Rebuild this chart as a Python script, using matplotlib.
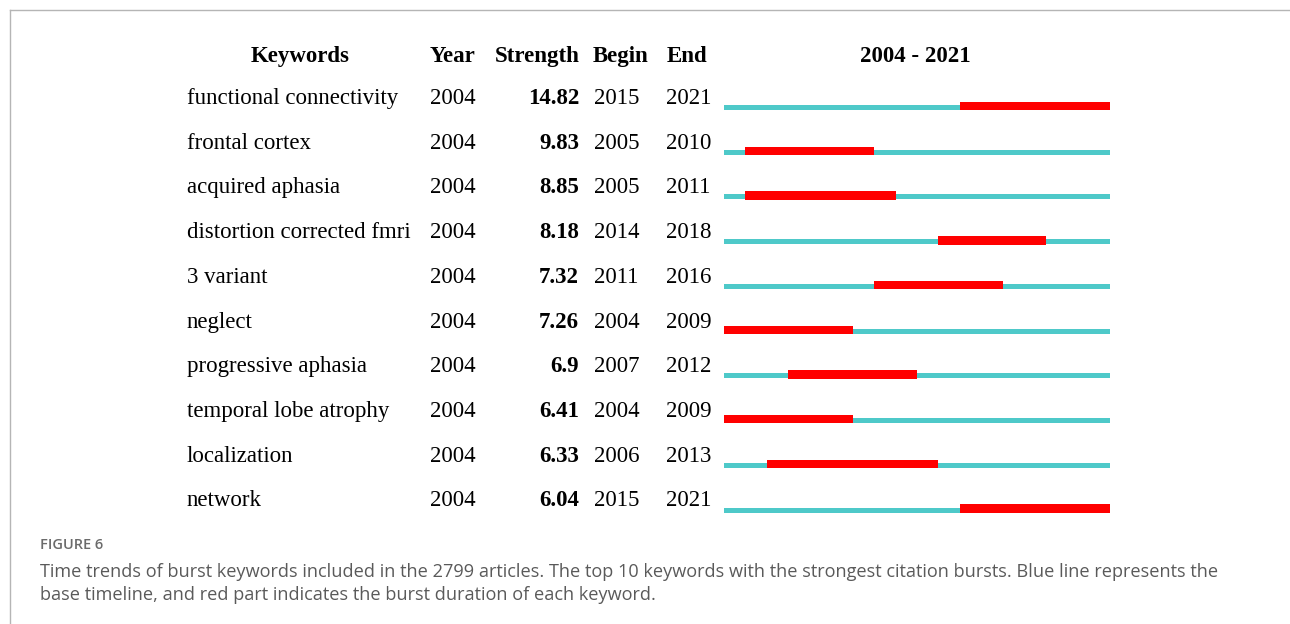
import matplotlib
matplotlib.use("Agg")
import matplotlib.pyplot as plt
from matplotlib.lines import Line2D
from matplotlib.transforms import blended_transform_factory

# burst keyword data
keywords = ["functional connectivity", "frontal cortex", "acquired aphasia",
            "distortion corrected fmri", "3 variant", "neglect",
            "progressive aphasia", "temporal lobe atrophy", "localization", "network"]
year = [2004] * 10
strength = ["14.82", "9.83", "8.85", "8.18", "7.32", "7.26", "6.9", "6.41", "6.33", "6.04"]
begin = [2015, 2005, 2005, 2014, 2011, 2004, 2007, 2004, 2006, 2015]
end = [2021, 2010, 2011, 2018, 2016, 2009, 2012, 2009, 2013, 2021]
span_start, span_end = 2004, 2021

W, H = 1290, 624
fig = plt.figure(figsize=(W / 100, H / 100), dpi=100)

# timeline axes: x from 724px to 1110px, row 0 at 107.5px, row 9 at 510px
row_h = (510 - 107.5) / 9
top_px = 107.5 - 1.5 * row_h
bot_px = 510 + 0.5 * row_h
ax = fig.add_axes([724 / W, 1 - bot_px / H, 386 / W, (bot_px - top_px) / H])
ax.set_xlim(span_start, span_end + 1)
ax.set_ylim(9.5, -1.5)
ax.axis("off")

rows = list(range(len(keywords)))
cyan = "#4ec9c9"
red = "#ff0000"
ax.barh(rows, [span_end + 1 - span_start] * len(rows), left=span_start,
        height=5 / row_h, color=cyan, clip_on=False)
ax.barh([r - 0.03 for r in rows], [e + 1 - b for b, e in zip(begin, end)], left=begin,
        height=8.5 / row_h, color=red, clip_on=False)

# table columns (x in figure fraction, y in row units)
tr = blended_transform_factory(fig.transFigure, ax.transData)
serif = "Liberation Serif"
fs = 16.5
hdr_y = -1.02
ax.text(300 / W, hdr_y, "Keywords", transform=tr, ha="center", va="baseline",
        family=serif, fontsize=fs, fontweight="bold")
ax.text(430 / W, hdr_y, "Year", transform=tr, ha="left", va="baseline",
        family=serif, fontsize=fs, fontweight="bold")
ax.text(580 / W, hdr_y, "Strength", transform=tr, ha="right", va="baseline",
        family=serif, fontsize=fs, fontweight="bold")
ax.text(593 / W, hdr_y, "Begin", transform=tr, ha="left", va="baseline",
        family=serif, fontsize=fs, fontweight="bold")
ax.text(667 / W, hdr_y, "End", transform=tr, ha="left", va="baseline",
        family=serif, fontsize=fs, fontweight="bold")
ax.text((span_start + span_end + 1) / 2 - 0.1, hdr_y, f"{span_start} - {span_end}",
        ha="center", va="baseline", family=serif, fontsize=fs, fontweight="bold")

for i in rows:
    y = i - 0.08
    ax.text(187 / W, y, keywords[i], transform=tr, ha="left", va="baseline",
            family=serif, fontsize=fs)
    ax.text(430 / W, y, str(year[i]), transform=tr, ha="left", va="baseline",
            family=serif, fontsize=fs)
    ax.text(579 / W, y, strength[i], transform=tr, ha="right", va="baseline",
            family=serif, fontsize=fs, fontweight="bold")
    ax.text(594 / W, y, str(begin[i]), transform=tr, ha="left", va="baseline",
            family=serif, fontsize=fs)
    ax.text(666 / W, y, str(end[i]), transform=tr, ha="left", va="baseline",
            family=serif, fontsize=fs)

# caption
fig.text(40 / W, 1 - 549 / H, "FIGURE 6", ha="left", va="baseline",
         family="Open Sans", fontsize=10.5, fontweight="semibold", color="#6b6b6b")
fig.text(40 / W, 1 - 577 / H,
         "Time trends of burst keywords included in the 2799 articles. The top 10 keywords "
         "with the strongest citation bursts. Blue line represents the",
         ha="left", va="baseline", family="Open Sans", fontsize=13.1, color="#5a5a5a")
fig.text(40 / W, 1 - 600 / H,
         "base timeline, and red part indicates the burst duration of each keyword.",
         ha="left", va="baseline", family="Open Sans", fontsize=13.1, color="#5a5a5a")

# frame lines
fig.add_artist(Line2D([10 / W, 1], [1 - 10 / H, 1 - 10 / H], transform=fig.transFigure,
                      color="#b5b5b5", lw=1))
fig.add_artist(Line2D([10 / W, 10 / W], [0, 1 - 10 / H], transform=fig.transFigure,
                      color="#b5b5b5", lw=1))

fig.savefig("out.png", dpi=100)
